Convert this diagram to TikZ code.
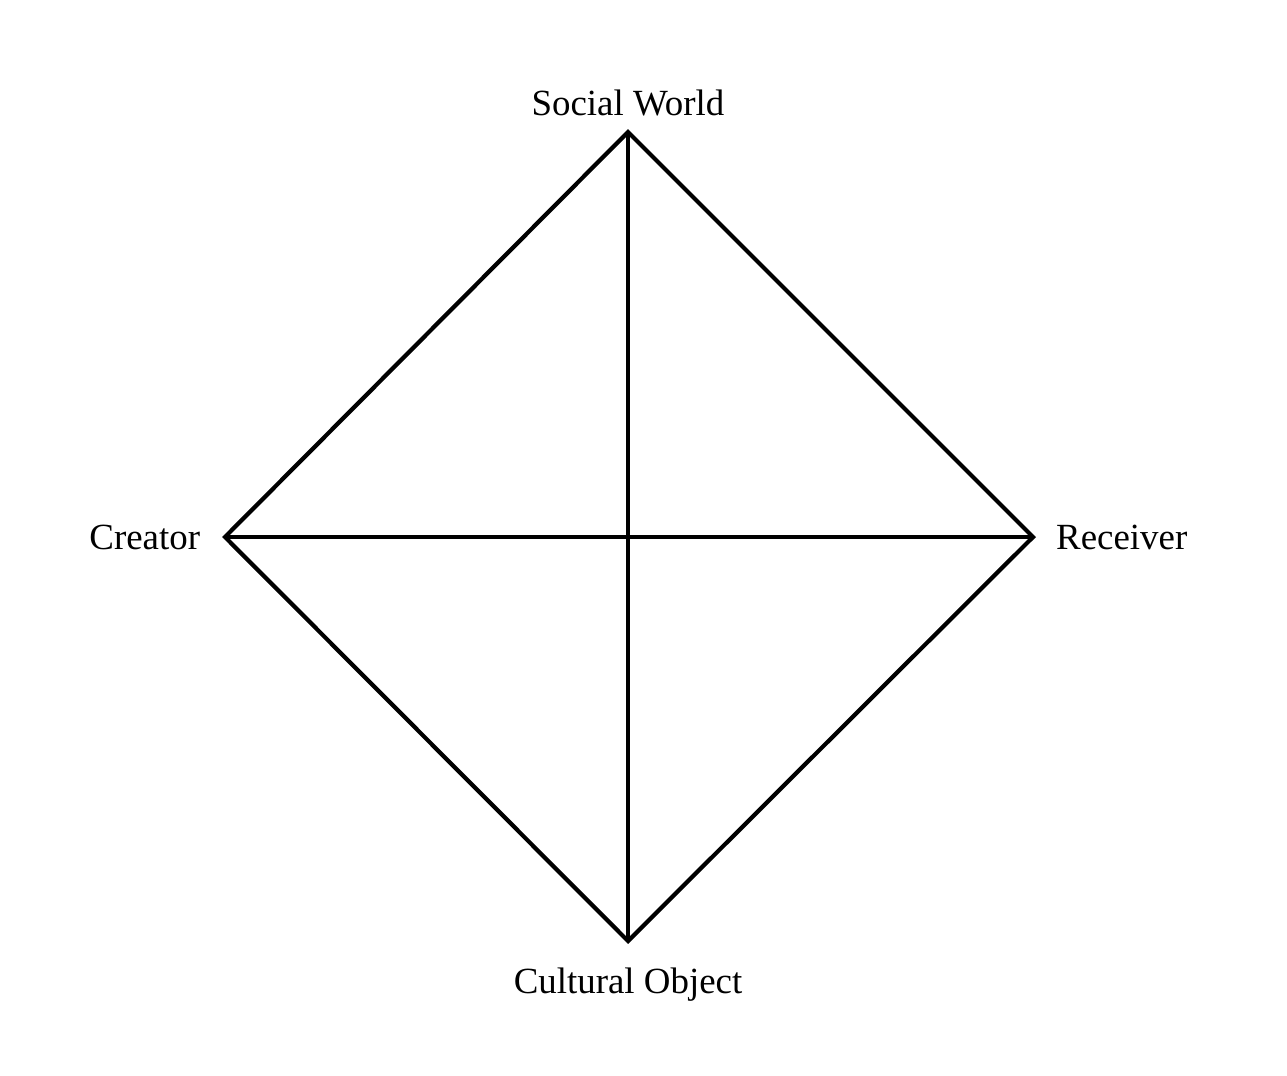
\documentclass[tikz,border=0pt]{standalone}
\usepackage{fontspec}
\setmainfont{Liberation Serif}
\usetikzlibrary{positioning}

\begin{document}
\begin{tikzpicture}[x=0.02cm, y=-0.02cm, line width=2.4pt, every label/.style={font=\fontsize{21}{25}\selectfont, inner sep=0pt}]
    \useasboundingbox (0,0) rectangle (1287,1075);
    \node[coordinate, label={[label distance=8pt]above:Social World}] (S) at (628,132) {};
    \node[coordinate, label={[label distance=13pt]left:Creator}] (C) at (225,537) {};
    \node[coordinate, label={[label distance=12pt]right:Receiver}] (R) at (1033,537) {};
    \node[coordinate, label={[label distance=14pt]below:Cultural Object}] (O) at (628,941) {};

    \draw[line join=miter] (S) -- (R) -- (O) -- (C) -- cycle;
    \draw (S) -- (O);
    \draw (C) -- (R);
\end{tikzpicture}
\end{document}
